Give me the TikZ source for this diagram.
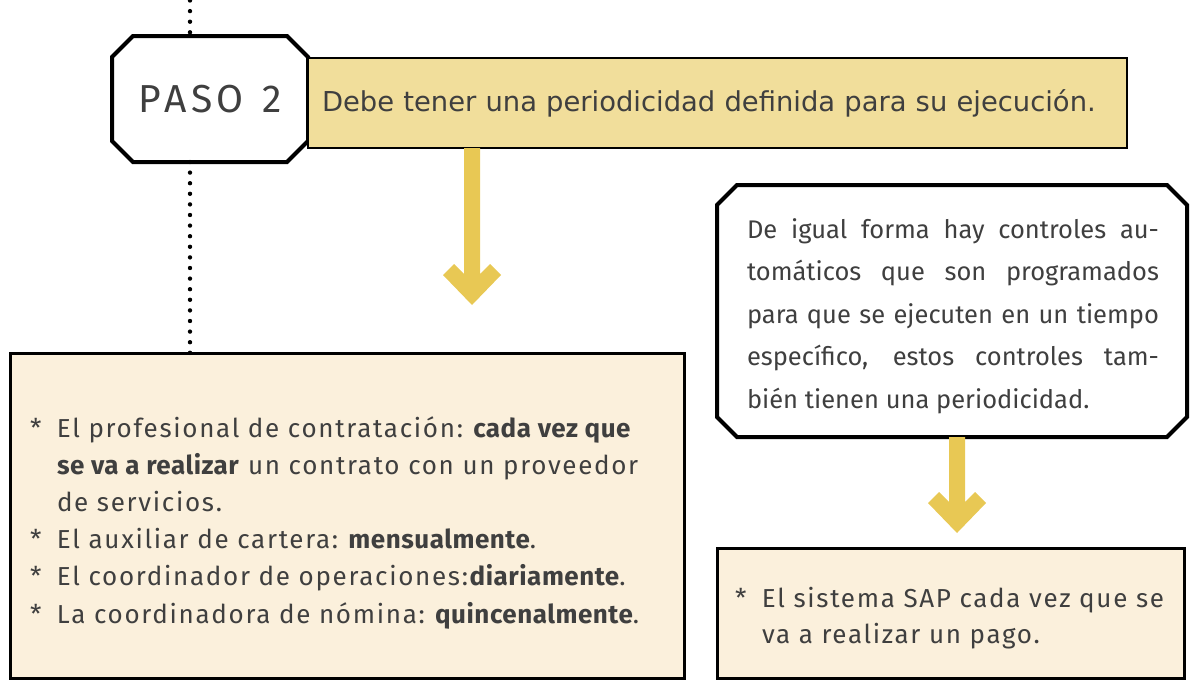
\documentclass[tikz,border=0pt]{standalone}
\usepackage{fontspec}
\setmainfont{Fira Sans}
\newfontfamily\listfont{Fira Sans}[LetterSpace=6.5, BoldFeatures={LetterSpace=2}]
\newfontfamily\dejavu{DejaVu Sans}
\usetikzlibrary{calc,backgrounds}
\definecolor{txt}{HTML}{3F3F3F}
\definecolor{ybox}{HTML}{F1DE9B}
\definecolor{yarrow}{HTML}{E8C854}
\definecolor{cream}{HTML}{FBF0DC}
\newcommand\octapath[2]{($(#1.north west)+(#2,0)$) -- ($(#1.north east)+(-#2,0)$) -- ($(#1.north east)+(0,#2)$) -- ($(#1.south east)+(0,-#2)$) -- ($(#1.south east)+(-#2,0)$) -- ($(#1.south west)+(#2,0)$) -- ($(#1.south west)+(0,-#2)$) -- ($(#1.north west)+(0,#2)$) -- cycle}
\newcommand\bigarrow[2]{\fill[yarrow] ($(#1)+(-8,0)$) -- ($(#1)+(8,0)$) -- ($(#2)+(8,-31)$) -- ($(#2)+(18,-41)$) -- ($(#2)+(29,-30)$) -- (#2) -- ($(#2)+(-29,-30)$) -- ($(#2)+(-18,-41)$) -- ($(#2)+(-8,-31)$) -- cycle;}
\begin{document}
\begin{tikzpicture}[x=1pt,y=-1pt,
  every node/.style={text=txt, outer sep=0pt},
  octline/.style={draw=black, line width=4pt, fill=white, line join=miter},
  creambox/.style={draw=black, line width=3pt, fill=cream, inner sep=0pt},
  dotline/.style={line width=4.4pt, line cap=round, dash pattern=on 0pt off 10.6pt}]
\useasboundingbox (0,0) rectangle (1190,680);

\coordinate (dtop) at (190,0.5);

% header box
\node[draw=black, line width=2.6pt, fill=ybox, minimum width=819pt, minimum height=90pt,
      text width=791pt, inner xsep=14pt, inner ysep=0pt, align=left,
      font=\dejavu\fontsize{27.4}{30}\selectfont] (head) at (717.5,103)
      {Debe tener una periodicidad definida para su ejecución.};

% PASO 2
\node[minimum width=196pt, minimum height=126pt, inner sep=0pt,
      font=\fontsize{39}{42}\selectfont, text=txt] (paso) at (210,99)
      {P\kern4.2pt A\kern4.2pt S\kern4.2pt O\kern4.2pt\ \kern4.2pt 2};
\begin{scope}[on background layer]
  \draw[octline] \octapath{paso}{21};
\end{scope}

% left box
\node[creambox, minimum width=674pt, minimum height=325pt] (left) at (347,515.5) {};
\node[anchor=base west, inner sep=0pt] (lefttext) at (30,437)
 {\parbox[t]{650pt}{\listfont\fontsize{26}{37.2}\selectfont
  \makebox[27pt][l]{*}El profesional de contratación:\ \textbf{cada vez que}\\
  \hspace*{27pt}\textbf{se va a realizar} un contrato con un proveedor\\
  \hspace*{27pt}de servicios.\\
  \makebox[27pt][l]{*}El auxiliar de cartera:\ \textbf{mensualmente}.\\
  \makebox[27pt][l]{*}El coordinador de operaciones:\textbf{diariamente}.\\
  \makebox[27pt][l]{*}La coordinadora de nómina:\ \textbf{quincenalmente}.}};

\draw[dotline] (dtop) -- (dtop |- paso.north);
\draw[dotline] (dtop |- paso.south) -- (dtop |- left.north);

% right octagon
\node[minimum width=470pt, minimum height=252pt, inner sep=0pt] (ctrl) at (952,311) {};
\begin{scope}[on background layer]
  \draw[octline] \octapath{ctrl}{20};
\end{scope}
\node[anchor=base west, inner sep=0pt] (ctrltext) at (747,238)
 {\parbox[t]{412pt}{\fontsize{25.5}{42.5}\selectfont
  \makebox[412pt][s]{De igual forma hay controles au-}\\
  \makebox[412pt][s]{tomáticos que son programados}\\
  \makebox[412pt][s]{para que se ejecuten en un tiempo}\\
  \makebox[412pt][s]{específico, estos controles tam-}\\
  bién tienen una periodicidad.}};

% right bottom box
\node[creambox, minimum width=467pt, minimum height=130pt] (sap) at (950.5,613) {};
\node[anchor=base west, inner sep=0pt] (saptext) at (735,607)
 {\parbox[t]{440pt}{\listfont\fontsize{26}{36}\selectfont
  \makebox[27pt][l]{*}El sistema SAP cada vez que se\\
  \hspace*{27pt}va a realizar un pago.}};

% arrows
\coordinate (a1s) at (head.south -| 472,0);
\coordinate (a1t) at (472,305);
\bigarrow{a1s}{a1t}
\coordinate (a2s) at (ctrl.south -| 957,0);
\coordinate (a2t) at (957,533);
\bigarrow{a2s}{a2t}
\end{tikzpicture}
\end{document}
